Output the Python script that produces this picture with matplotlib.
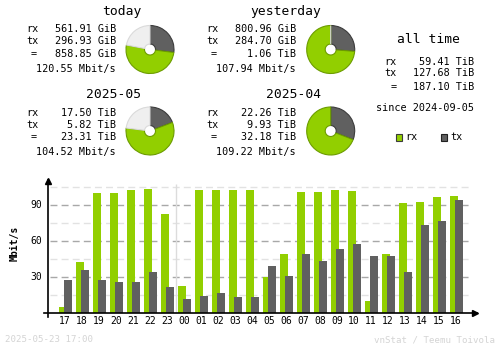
import matplotlib
matplotlib.use("Agg")
from matplotlib import pyplot as plt
from matplotlib.patches import Wedge, Rectangle
import numpy as np

# hourly traffic, Mbit/s
hours = ["17", "18", "19", "20", "21", "22", "23", "00", "01", "02", "03", "04",
         "05", "06", "07", "08", "09", "10", "11", "12", "13", "14", "15", "16"]
rx_rate = [4.7, 42.8, 100.3, 100.3, 102.8, 103.6, 82.8, 22.8, 102.8, 102.8, 102.8, 102.8,
           30.3, 49.4, 101.1, 101.1, 102.8, 101.9, 10.3, 49.4, 91.9, 92.8, 96.9, 97.8]
tx_rate = [27.2, 36.1, 27.8, 26.1, 26.1, 34.4, 21.9, 11.9, 14.4, 16.9, 13.6, 13.6,
           39.4, 31.1, 49.4, 43.6, 53.6, 57.8, 47.8, 47.8, 34.4, 73.6, 76.9, 94.4]

# summary boxes: title, rx, tx, total, rate, rx/tx amounts for the pie, elapsed share
periods = ["today", "yesterday", "2025-05", "2025-04"]
rx_text = ["561.91 GiB", "800.96 GiB", "17.50 TiB", "22.26 TiB"]
tx_text = ["296.93 GiB", "284.70 GiB", "5.82 TiB", "9.93 TiB"]
total_text = ["858.85 GiB", "1.06 TiB", "23.31 TiB", "32.18 TiB"]
rate_text = ["120.55 Mbit/s", "107.94 Mbit/s", "104.52 Mbit/s", "109.22 Mbit/s"]
rx_amount = [561.91, 800.96, 17.50, 22.26]
tx_amount = [296.93, 284.70, 5.82, 9.93]
elapsed = [0.78, 1.0, 0.77, 1.0]

alltime_rx = "59.41 TiB"
alltime_tx = "127.68 TiB"
alltime_total = "187.10 TiB"
since = "since 2024-09-05"

RX = "#92cf00"
TX = "#606060"
MONO = "DejaVu Sans Mono"

fig = plt.figure(figsize=(5.0, 3.48), dpi=100)
fig.patch.set_facecolor("white")

# overlay in pixel coordinates
ov = fig.add_axes([0, 0, 1, 1])
ov.set_xlim(0, 500)
ov.set_ylim(348, 0)
ov.axis("off")

title_pos = [(121.7, 11.7), (286, 11.7), (113.8, 94.3), (293.8, 94.3)]
label_x = [26, 206, 26, 206]
value_x = [116, 296, 116, 296]
row_y = [29, 29, 112.5, 112.5]
pie_c = [(150, 49.5), (330.7, 49.5), (150, 131), (330.7, 131)]


def donut(cx, cy, parts):
    # parts: list of (share, face, edge), drawn clockwise from 12 o'clock
    start = -90.0
    for share, face, edge in parts:
        if share <= 0:
            continue
        end = start + 360 * share
        ov.add_patch(Wedge((cx, cy), 24, start, end, width=18.5,
                           facecolor=face, edgecolor=edge, linewidth=0.8))
        start = end


for i in range(4):
    tx0, ty0 = title_pos[i]
    ov.text(tx0, ty0, periods[i], ha="center", va="center", fontsize=9.4, family=MONO)
    y0 = row_y[i]
    ov.text(label_x[i], y0, "rx", ha="left", va="center", fontsize=7.3, family=MONO)
    ov.text(label_x[i], y0 + 12.5, "tx", ha="left", va="center", fontsize=7.3, family=MONO)
    ov.text(label_x[i] + 8, y0 + 25, "=", ha="center", va="center", fontsize=7.3, family=MONO)
    ov.text(value_x[i], y0, rx_text[i], ha="right", va="center", fontsize=7.3, family=MONO)
    ov.text(value_x[i], y0 + 12.5, tx_text[i], ha="right", va="center", fontsize=7.3, family=MONO)
    ov.text(value_x[i], y0 + 25, total_text[i], ha="right", va="center", fontsize=7.3, family=MONO)
    ov.text(value_x[i], y0 + 40, rate_text[i], ha="right", va="center", fontsize=7.3, family=MONO)

    tot = rx_amount[i] + tx_amount[i]
    ftx = tx_amount[i] / tot * elapsed[i]
    frx = rx_amount[i] / tot * elapsed[i]
    cx, cy = pie_c[i]
    donut(cx, cy, [(ftx, TX, "#3c3c3c"), (frx, RX, "#6c9c00"),
                   (1 - ftx - frx, "#efefef", "#dadada")])

# all time block
ov.text(428.7, 39.5, "all time", ha="center", va="center", fontsize=9.4, family=MONO)
ov.text(384, 62, "rx", ha="left", va="center", fontsize=7.3, family=MONO)
ov.text(384, 73.5, "tx", ha="left", va="center", fontsize=7.3, family=MONO)
ov.text(393.5, 87, "=", ha="center", va="center", fontsize=7.3, family=MONO)
ov.text(474, 62, alltime_rx, ha="right", va="center", fontsize=7.3, family=MONO)
ov.text(474, 73.5, alltime_tx, ha="right", va="center", fontsize=7.3, family=MONO)
ov.text(474, 87, alltime_total, ha="right", va="center", fontsize=7.3, family=MONO)
ov.text(474, 108.3, since, ha="right", va="center", fontsize=7.3, family=MONO)

# legend
ov.add_patch(Rectangle((395.5, 134), 6.5, 6.5, facecolor=RX, edgecolor="#3c3c3c", linewidth=0.8))
ov.text(405.5, 137.5, "rx", ha="left", va="center", fontsize=7.3, family=MONO)
ov.add_patch(Rectangle((440.5, 134), 6.5, 6.5, facecolor=TX, edgecolor="#202020", linewidth=0.8))
ov.text(450.5, 137.5, "tx", ha="left", va="center", fontsize=7.3, family=MONO)

# footer
ov.text(5, 340, "2025-05-23 17:00", ha="left", va="center", fontsize=6.6, family=MONO, color="#d4d4d4")
ov.text(495, 340, "vnStat / Teemu Toivola", ha="right", va="center", fontsize=6.6, family=MONO, color="#d4d4d4")

# hourly bar chart: x index i is centred at pixel 65 + 17 i, 1.2 px per Mbit/s
base_px = 313.0
top_px = 180.0
left_px, right_px = 48.0, 477.0
ax = fig.add_axes([left_px / 500, (348 - base_px) / 348,
                   (right_px - left_px) / 500, (base_px - top_px) / 348])
ax.set_xlim((left_px - 65) / 17, (right_px - 65) / 17)
ax.set_ylim(0, (base_px - top_px) / 1.2)
ax.axis("off")

x = np.arange(len(hours))
gx0, gx1 = (50 - 65) / 17, (472 - 65) / 17
for v in [15, 45, 75, 105]:
    ax.hlines(v, gx0, gx1, colors="#e2e2e2", linewidth=1, linestyles=(0, (5, 3)))
for v in [30, 60, 90]:
    ax.hlines(v, gx0, gx1, colors="#a8a8a8", linewidth=1, linestyles=(0, (5, 3)))
    ax.text(-1.35, v, str(v), ha="right", va="center", fontsize=7, family=MONO)

# day separator between 23 and 00
ax.vlines(6.5, 0, (base_px - 184) / 1.2, colors="#dcdcdc", linewidth=1)

w = 8 / 17
ax.bar(x - 2.5 / 17, rx_rate, width=w, color=RX, linewidth=0, zorder=3)
ax.bar(x + 2.5 / 17, tx_rate, width=w, color=TX, linewidth=0, zorder=4)

for i, h in enumerate(hours):
    ax.text(i, -6.7, h, ha="center", va="center", fontsize=7, family=MONO)

# axes with arrows
xl = ax.get_xlim()
ax.plot([(44 - 65) / 17, xl[1]], [0, 0], color="black", linewidth=1.2, clip_on=False, zorder=5)
ax.plot([-1, -1], [-3, ax.get_ylim()[1]], color="black", linewidth=1.2, clip_on=False, zorder=5)
ax.plot([xl[1] - 0.1], [0], marker=">", color="black", markersize=4, clip_on=False, zorder=6)
ax.plot([-1], [ax.get_ylim()[1] - 1], marker="^", color="black", markersize=4, clip_on=False, zorder=6)

ov.text(14.7, 243, "Mbit/s", rotation=90, ha="center", va="center", fontsize=7,
        family=MONO, fontweight="bold")

fig.savefig("out.png", dpi=100, facecolor="white")
